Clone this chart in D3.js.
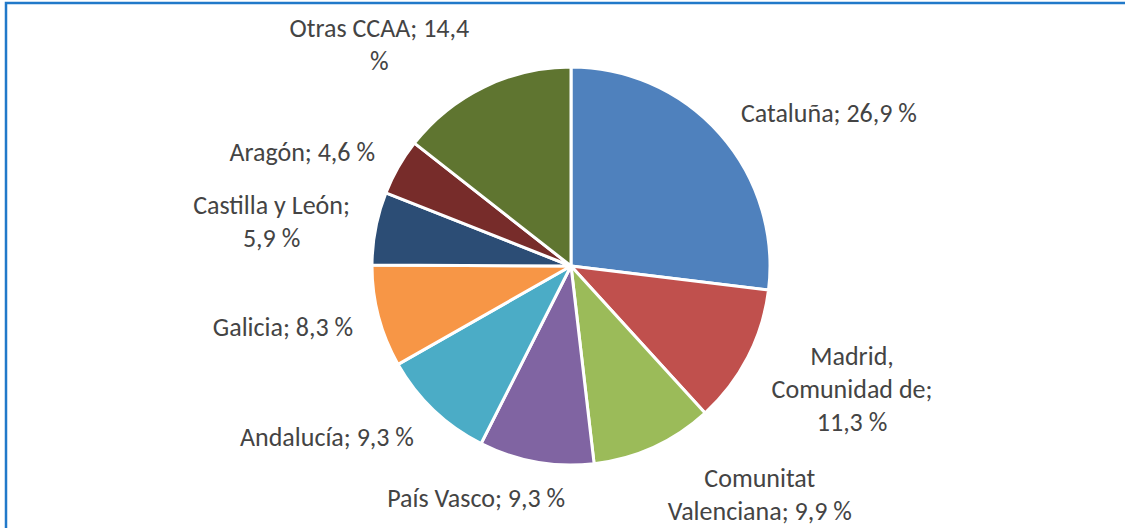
<!DOCTYPE html>
<html>
<head>
<meta charset="utf-8">
<script src="https://cdn.jsdelivr.net/npm/d3@7"></script>
<style>
	body { margin: 0; background: #fff; }
	svg { display: block; }
</style>
</head>
<body>
<svg></svg>
<script>
var width = 1125,
	height = 528;

// data, clockwise from 12 o'clock
var regions = [
	"Cataluña",
	"Madrid, Comunidad de",
	"Comunitat Valenciana",
	"País Vasco",
	"Andalucía",
	"Galicia",
	"Castilla y León",
	"Aragón",
	"Otras CCAA"
];
var shares = [26.9, 11.3, 9.9, 9.3, 9.3, 8.3, 5.9, 4.6, 14.4];
var colors = [
	"#4F81BD",
	"#C0504D",
	"#9BBB59",
	"#8064A2",
	"#4BACC6",
	"#F79646",
	"#2C4D75",
	"#772C2A",
	"#5F7530"
];

var cx = 571,
	cy = 266,
	radius = 199,
	fontSize = 26,
	lineH = 33,
	wrapWidth = 190;

var fmt = d3.formatLocale({ decimal: ",", thousands: ".", grouping: [3], currency: ["", "€"] }).format(".1f");

var data = regions.map(function(r, i) {
	return { name: r, value: shares[i], color: colors[i] };
});

var svg = d3
	.select("svg")
	.attr("width", width)
	.attr("height", height);

// chart frame (extends past the window like the screenshot)
svg
	.append("rect")
	.attr("x", 6)
	.attr("y", 3)
	.attr("width", width + 20)
	.attr("height", height + 20)
	.attr("fill", "none")
	.attr("stroke", "#2179c9")
	.attr("stroke-width", 2.5);

var pie = d3
	.pie()
	.sort(null)
	.value(function(d) {
		return d.value;
	});

var arc = d3
	.arc()
	.innerRadius(0)
	.outerRadius(radius);

var g = svg.append("g").attr("transform", "translate(" + cx + "," + cy + ")");

var arcs = pie(data);

g.selectAll(".slice")
	.data(arcs)
	.enter()
	.append("path")
	.attr("class", "slice")
	.attr("d", arc)
	.attr("fill", function(d) {
		return d.data.color;
	})
	.attr("stroke", "#fff")
	.attr("stroke-width", 3)
	.attr("stroke-linejoin", "round");

// labels, wrapped greedily like Excel does
var labels = g
	.selectAll(".lbl")
	.data(arcs)
	.enter()
	.append("text")
	.attr("class", "lbl")
	.attr("font-family", "Carlito, Calibri, 'Liberation Sans', Arial, sans-serif")
	.attr("font-size", fontSize)
	.attr("fill", "#444")
	.attr("text-anchor", "middle");

labels.each(function(d) {
	var t = d3.select(this);
	var words = (d.data.name + "; " + fmt(d.data.value) + " %").split(" ");
	var lines = [],
		cur = "";
	var probe = t.append("tspan");
	words.forEach(function(w) {
		var test = cur ? cur + " " + w : w;
		probe.text(test);
		if (probe.node().getComputedTextLength() > wrapWidth && cur) {
			lines.push(cur);
			cur = w;
		} else {
			cur = test;
		}
	});
	lines.push(cur);
	probe.remove();

	var maxW = 0;
	lines.forEach(function(l) {
		var s = t.append("tspan").text(l);
		maxW = Math.max(maxW, s.node().getComputedTextLength());
		s.remove();
	});
	var boxH = lines.length * lineH;

	var a = (d.startAngle + d.endAngle) / 2;
	var sa = Math.sin(a),
		ca = Math.cos(a);
	var px = (radius + 20) * sa,
		py = -(radius + 20) * ca;
	var fx = Math.sign(sa) * Math.min(1, Math.abs(sa) * 3.4);
	var bx = px + fx * (maxW / 2 + 6),
		by = py - ca * 0.9 * (boxH / 2) + 2;

	lines.forEach(function(l, i) {
		t.append("tspan")
			.attr("x", bx)
			.attr("y", by - boxH / 2 + lineH * i + lineH / 2)
			.attr("dy", "0.35em")
			.text(l);
	});
});
</script>
</body>
</html>
